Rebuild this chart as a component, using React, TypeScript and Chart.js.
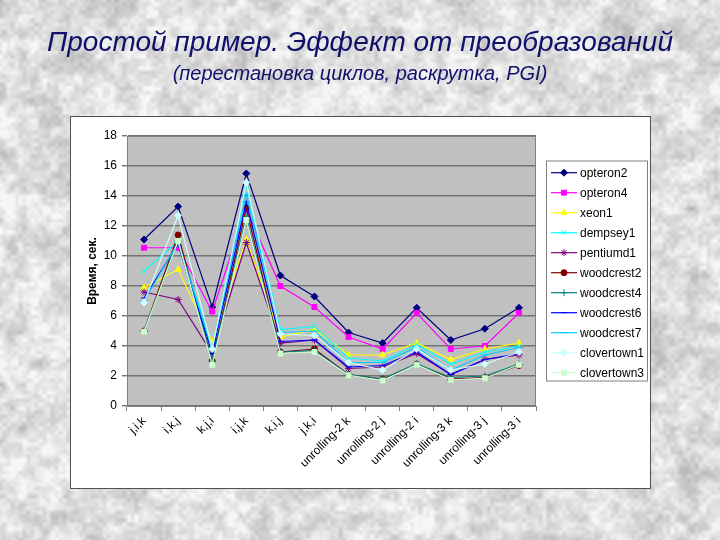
import React, { useEffect, useRef } from "react";
import { Chart, registerables } from "chart.js";
import { drawPoint } from "chart.js/helpers";

Chart.register(...registerables);

// ---------- data ----------
const categories = [
  "j,i,k", "i,k,j", "k,j,i", "i,j,k", "k,i,j", "j,k,i",
  "unrolling-2 k", "unrolling-2 j", "unrolling-2 i",
  "unrolling-3 k", "unrolling-3 j", "unrolling-3 i",
];
const seriesNames = [
  "opteron2", "opteron4", "xeon1", "dempsey1", "pentiumd1", "woodcrest2",
  "woodcrest4", "woodcrest6", "woodcrest7", "clovertown1", "clovertown3",
];
const opteron2 = [11.1, 13.3, 6.6, 15.5, 8.7, 7.3, 4.9, 4.2, 6.55, 4.4, 5.15, 6.55];
const opteron4 = [10.55, 10.55, 6.3, 13.1, 8.0, 6.6, 4.6, 3.8, 6.2, 3.8, 4.0, 6.2];
const xeon1 = [7.9, 9.1, 4.3, 11.1, 4.6, 5.1, 3.4, 3.4, 4.2, 3.1, 3.8, 4.2];
const dempsey1 = [9.0, 11.0, 3.9, 14.7, 5.1, 5.3, 3.2, 3.0, 4.1, 2.8, 3.6, 4.0];
const pentiumd1 = [7.6, 7.1, 3.5, 10.9, 4.2, 4.4, 2.5, 2.6, 3.5, 2.1, 3.1, 3.4];
const woodcrest2 = [5.0, 11.4, 3.0, 13.2, 3.6, 3.8, 2.1, 1.8, 2.8, 1.8, 1.9, 2.7];
const woodcrest4 = [5.0, 11.0, 3.0, 12.6, 3.6, 3.7, 2.1, 1.8, 2.8, 1.9, 2.0, 2.8];
const woodcrest6 = [7.2, 10.8, 3.5, 13.6, 4.3, 4.4, 2.6, 2.7, 3.6, 2.1, 3.1, 3.5];
const woodcrest7 = [7.0, 10.9, 3.8, 14.1, 4.9, 5.0, 2.9, 2.9, 3.9, 2.4, 3.4, 3.9];
const clovertown1 = [6.9, 12.7, 3.8, 14.9, 4.8, 4.7, 2.9, 2.4, 3.8, 2.4, 2.8, 3.6];
const clovertown3 = [4.95, 11.0, 2.75, 12.4, 3.5, 3.6, 2.05, 1.7, 2.75, 1.75, 1.85, 2.75];
const seriesValues = [
  opteron2, opteron4, xeon1, dempsey1, pentiumd1, woodcrest2,
  woodcrest4, woodcrest6, woodcrest7, clovertown1, clovertown3,
];
const yTickValues = [0, 2, 4, 6, 8, 10, 12, 14, 16, 18];

const titleText = "Простой пример. Эффект от преобразований";
const subtitleText = "(перестановка циклов, раскрутка, PGI)";
const yAxisTitle = "Время, сек.";

// ---------- styles ----------
const seriesColors = [
  "#000080", "#FF00FF", "#FFFF00", "#00FFFF", "#800080", "#800000",
  "#008080", "#0000FF", "#00CCFF", "#CCFFFF", "#CCFFCC",
];
const seriesPoints = [
  "rectRot", "rect", "triangle", "crossRot", "star", "circle",
  "cross", "line", "line", "rectRot", "rect",
];
const seriesRadius = [3.5, 3.5, 3.5, 3.5, 3.5, 3, 3.5, 3, 4, 3.5, 3.5];

const FONT = "Arial, 'Liberation Sans', sans-serif";
const PANEL_W = 579;
const PANEL_H = 371;

// ---------- background texture (decoration) ----------
function hash(x: number, y: number, s: number) {
  let n = (Math.imul(x, 374761393) + Math.imul(y, 668265263) + Math.imul(s, 1442695041)) | 0;
  n = Math.imul(n ^ (n >>> 13), 1274126177);
  n ^= n >>> 16;
  return (n >>> 0) / 4294967295;
}
function vnoise(x: number, y: number, cell: number, s: number) {
  const gx = x / cell, gy = y / cell;
  const x0 = Math.floor(gx), y0 = Math.floor(gy);
  const fx = gx - x0, fy = gy - y0;
  const sx = fx * fx * (3 - 2 * fx), sy = fy * fy * (3 - 2 * fy);
  const a = hash(x0, y0, s), b = hash(x0 + 1, y0, s), c = hash(x0, y0 + 1, s), d = hash(x0 + 1, y0 + 1, s);
  return a + (b - a) * sx + (c - a) * sy + (a - b - c + d) * sx * sy;
}

function Background() {
  const ref = useRef<HTMLCanvasElement | null>(null);
  useEffect(() => {
    const cv = ref.current;
    if (!cv) return;
    const ctx = cv.getContext("2d");
    if (!ctx) return;
    const img = ctx.createImageData(720, 540);
    for (let y = 0; y < 540; y++) {
      for (let x = 0; x < 720; x++) {
        const n =
          0.3 * vnoise(x, y, 30, 1) +
          0.4 * vnoise(x, y, 11, 2) +
          0.3 * vnoise(x, y, 4, 3);
        let g = 222 + (n - 0.5) * 95;
        g = Math.max(165, Math.min(246, g));
        const i = (y * 720 + x) * 4;
        img.data[i] = g;
        img.data[i + 1] = g;
        img.data[i + 2] = g;
        img.data[i + 3] = 255;
      }
    }
    ctx.putImageData(img, 0, 0);
  }, []);
  return (
    <canvas
      ref={ref}
      width={720}
      height={540}
      style={{ position: "absolute", left: 0, top: 0 }}
    />
  );
}

// ---------- plugins ----------
const plotBgPlugin = {
  id: "plotBg",
  beforeDraw(chart: any) {
    const { ctx, chartArea } = chart;
    const { left, top, right, bottom } = chartArea;
    ctx.save();
    ctx.fillStyle = "#C0C0C0";
    ctx.fillRect(left, top, right - left, bottom - top);
    ctx.restore();
  },
  beforeDatasetsDraw(chart: any) {
    const { ctx, chartArea } = chart;
    const { left, top, right, bottom } = chartArea;
    ctx.save();
    ctx.strokeStyle = "#808080";
    ctx.lineWidth = 1;
    ctx.strokeRect(left + 0.5, top + 0.5, right - left - 1, bottom - top);
    ctx.restore();
  },
};

const legendPlugin = {
  id: "excelLegend",
  afterDraw(chart: any) {
    const ctx = chart.ctx;
    const bx = 475, by = 43.5, bw = 101, bh = 220;
    ctx.save();
    ctx.fillStyle = "#FFFFFF";
    ctx.fillRect(bx, by, bw, bh);
    ctx.strokeStyle = "#808080";
    ctx.lineWidth = 1;
    ctx.strokeRect(bx + 0.5, by + 0.5, bw, bh);
    chart.data.datasets.forEach((ds: any, i: number) => {
      const cy = 55.7 + i * 20;
      ctx.strokeStyle = ds.borderColor;
      ctx.lineWidth = 1.2;
      ctx.beginPath();
      ctx.moveTo(480, cy);
      ctx.lineTo(506, cy);
      ctx.stroke();
      ctx.fillStyle = ds.pointBackgroundColor;
      ctx.strokeStyle = ds.borderColor;
      ctx.lineWidth = 1;
      drawPoint(
        ctx,
        { pointStyle: ds.pointStyle, radius: ds.pointRadius, rotation: 0, borderWidth: 1 } as any,
        493,
        cy
      );
      ctx.fillStyle = "#000000";
      ctx.font = `12px ${FONT}`;
      ctx.textAlign = "left";
      ctx.textBaseline = "middle";
      ctx.fillText(ds.label, 509, cy + 0.5);
    });
    ctx.restore();
  },
};

function LineChart() {
  const ref = useRef<HTMLCanvasElement | null>(null);
  useEffect(() => {
    const cv = ref.current;
    if (!cv) return;
    const n = seriesNames.length;
    const chart = new Chart(cv, {
      type: "line",
      data: {
        labels: categories,
        datasets: seriesNames.map((name, i) => ({
          label: name,
          data: seriesValues[i],
          order: n - i,
          borderColor: seriesColors[i],
          backgroundColor: seriesColors[i],
          pointBackgroundColor: seriesColors[i],
          pointBorderColor: seriesColors[i],
          pointStyle: seriesPoints[i] as any,
          pointRadius: seriesRadius[i],
          pointBorderWidth: 1,
          borderWidth: 1.2,
          tension: 0,
          fill: false,
        })),
      },
      options: {
        animation: false,
        responsive: false,
        devicePixelRatio: 1,
        layout: { padding: { left: 10, right: 114, top: 19, bottom: 0 } },
        plugins: {
          legend: { display: false },
          tooltip: { enabled: false },
          title: { display: false },
        },
        scales: {
          x: {
            type: "category",
            offset: true,
            grid: {
              offset: true,
              drawOnChartArea: false,
              drawTicks: true,
              tickLength: 5,
              color: "#808080",
            },
            border: { display: true, color: "#808080", width: 1 },
            ticks: {
              autoSkip: false,
              maxRotation: 45,
              minRotation: 45,
              padding: 3,
              color: "#000000",
              font: { family: FONT, size: 12 },
            },
            afterFit(scale: any) {
              scale.height = 82;
            },
          },
          y: {
            min: 0,
            max: 18,
            grid: {
              color: "#747474",
              lineWidth: 1.4,
              drawTicks: true,
              tickLength: 5,
            },
            border: { display: true, color: "#808080", width: 1 },
            ticks: {
              padding: 5,
              color: "#000000",
              font: { family: FONT, size: 12 },
            },
            afterBuildTicks(scale: any) {
              scale.ticks = yTickValues.map((v) => ({ value: v }));
            },
            title: {
              display: true,
              text: yAxisTitle,
              color: "#000000",
              font: { family: FONT, size: 12, weight: "bold" },
              padding: { top: 4, bottom: 4 },
            },
            afterFit(scale: any) {
              scale.width = 46;
            },
          },
        },
      },
      plugins: [plotBgPlugin, legendPlugin],
    } as any);
    return () => chart.destroy();
  }, []);
  return <canvas ref={ref} width={PANEL_W} height={PANEL_H} style={{ display: "block" }} />;
}

export default function App() {
  return (
    <div
      style={{
        position: "fixed",
        left: 0,
        top: 0,
        width: 720,
        height: 540,
        overflow: "hidden",
        background: "#dcdcdc",
      }}
    >
      <Background />
      <div
        style={{
          position: "absolute",
          left: 0,
          width: 720,
          top: 28,
          textAlign: "center",
          fontFamily: FONT,
          fontStyle: "italic",
          fontSize: 28,
          lineHeight: 1,
          color: "#10106A",
          whiteSpace: "nowrap",
        }}
      >
        {titleText}
      </div>
      <div
        style={{
          position: "absolute",
          left: 0,
          width: 720,
          top: 63,
          textAlign: "center",
          fontFamily: FONT,
          fontStyle: "italic",
          fontSize: 20,
          lineHeight: 1,
          color: "#10106A",
          whiteSpace: "nowrap",
        }}
      >
        {subtitleText}
      </div>
      <div
        style={{
          position: "absolute",
          left: 70,
          top: 116,
          width: PANEL_W + 2,
          height: PANEL_H + 2,
          boxSizing: "border-box",
          border: "1px solid #505050",
          background: "#FFFFFF",
        }}
      >
        <LineChart />
      </div>
    </div>
  );
}
